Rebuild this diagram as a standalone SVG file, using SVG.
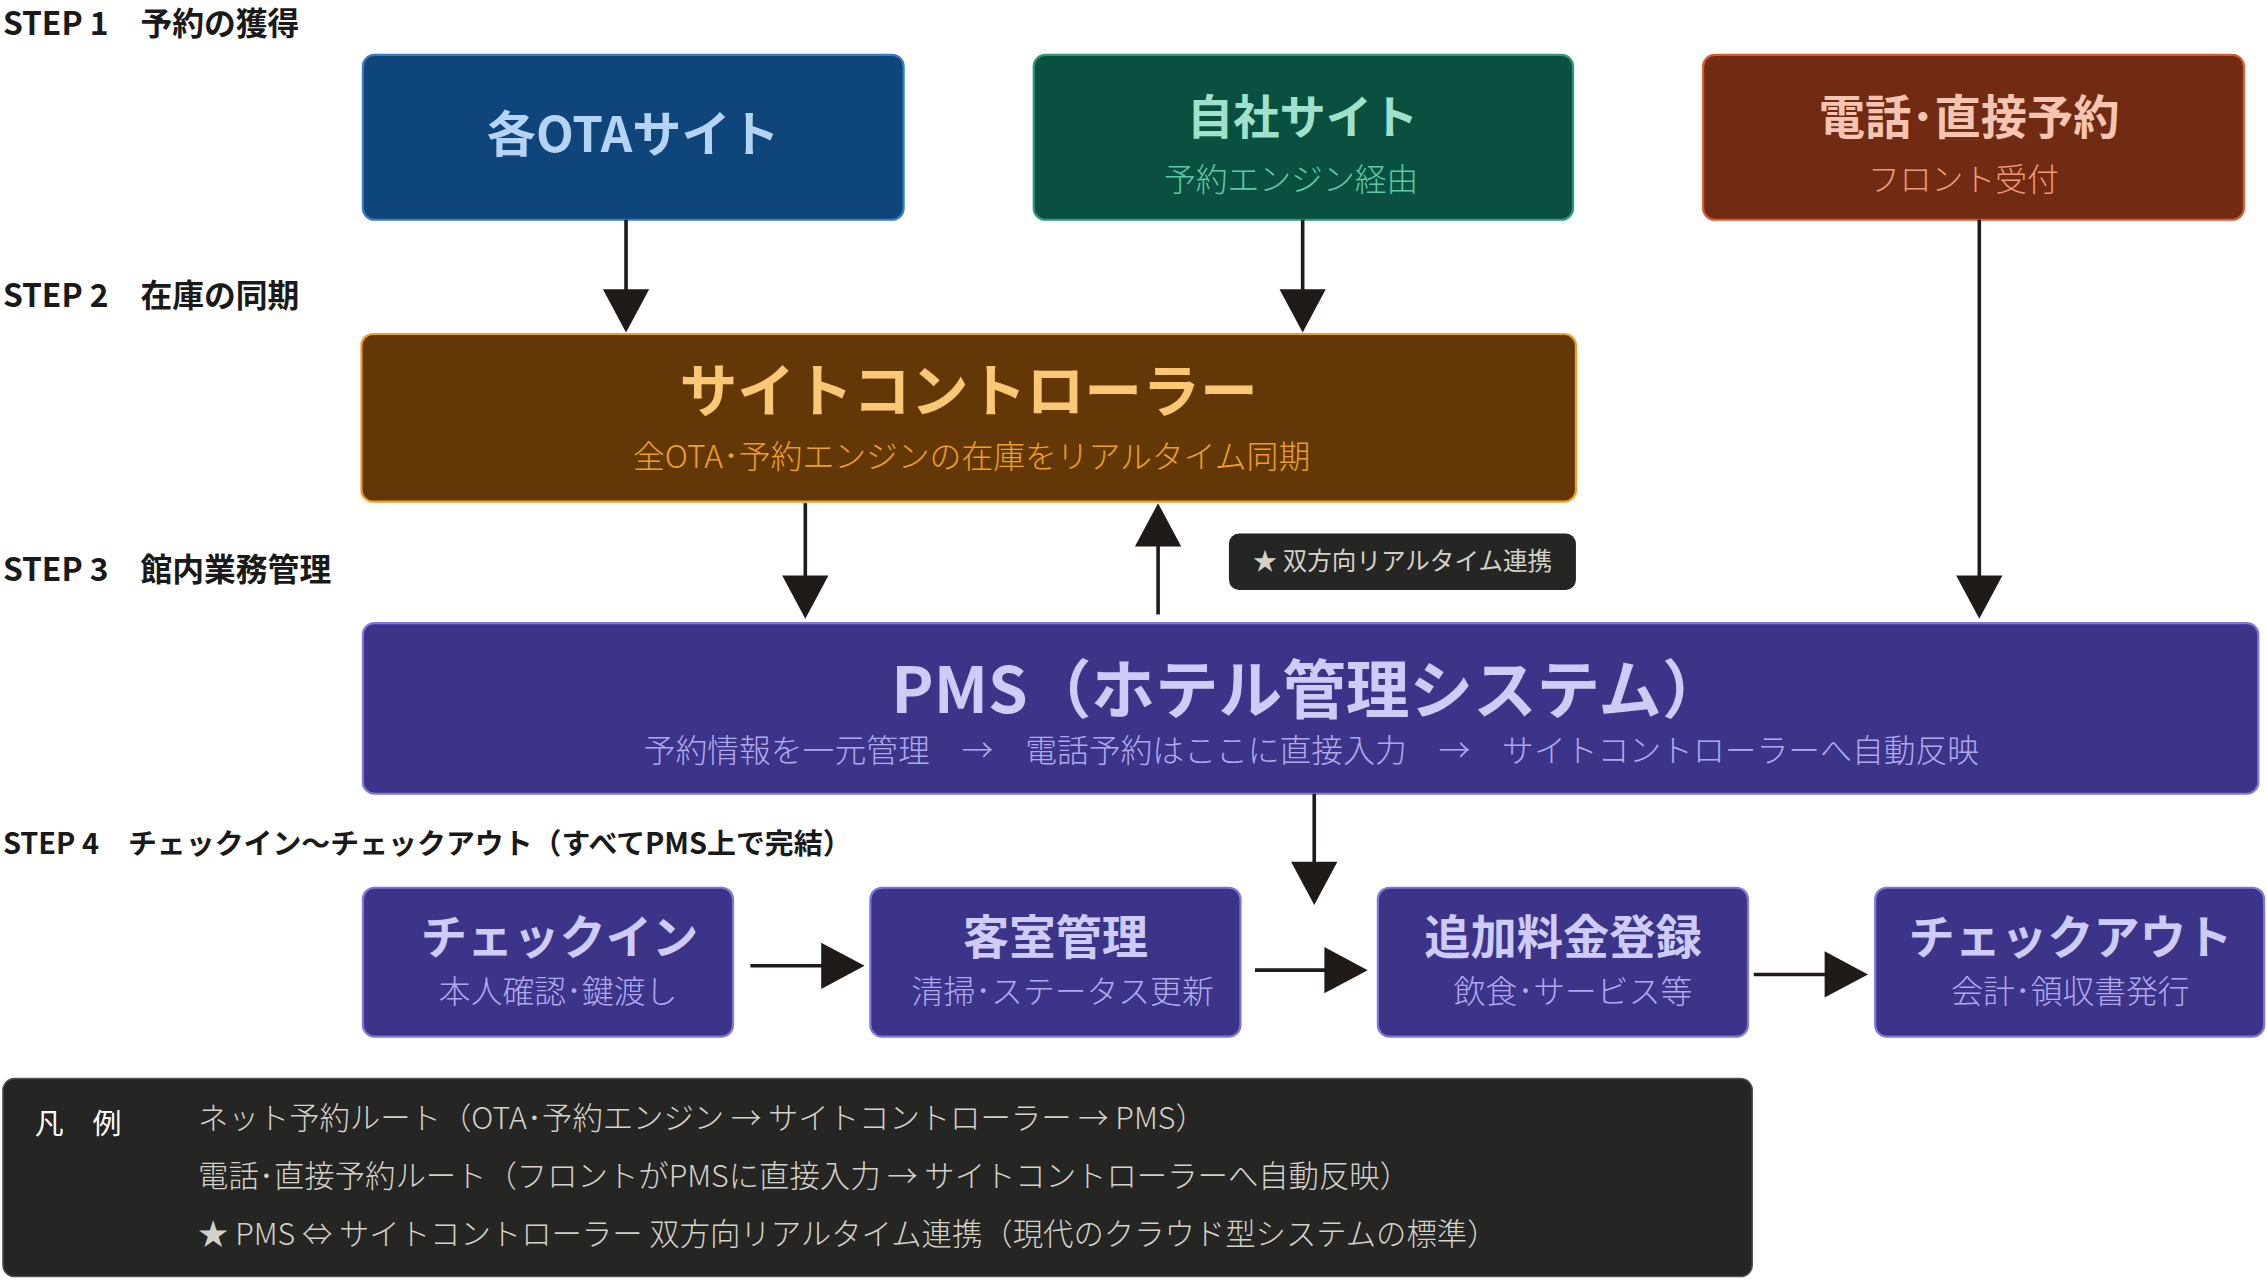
<svg xmlns="http://www.w3.org/2000/svg" width="2267" height="1280" viewBox="0 0 2267 1280">
<style>
text{font-family:"Noto Sans CJK JP","Noto Sans",sans-serif}
.step{font-size:22px;font-weight:700;fill:#1a1a1a}
.t{font-weight:700;text-anchor:middle}
.s{font-size:22px;text-anchor:middle;font-weight:300}
.ln{stroke:#201a18;stroke-width:2.5;fill:none}
.hd{fill:#201a18}
.lg{font-size:21px;fill:#d3d1c7;font-weight:300}
</style>
<rect width="2267" height="1280" fill="#ffffff"/>
<g transform="scale(1.4458)">
<g id="labels">
<text class="step" x="2" y="24">STEP 1　予約の獲得</text>
<text class="step" x="2" y="212">STEP 2　在庫の同期</text>
<text class="step" x="2" y="402">STEP 3　館内業務管理</text>
<text class="step" x="2" y="591" style="font-size:20px">STEP 4　チェックイン～チェックアウト（すべてPMS上で完結）</text>
</g>
<g id="ota">
<rect x="251" y="38" width="374" height="114" rx="8" fill="#0e457a" stroke="#3a7ac0" stroke-width="1.5"/>
<text class="t" x="438" y="105" font-size="34" fill="#b5d4f4">各OTAサイト</text>
</g>
<g id="own">
<rect x="715" y="38" width="373" height="114" rx="8" fill="#0a5040" stroke="#2a9a7a" stroke-width="1.5"/>
<text class="t" x="901" y="93" font-size="32" fill="#9fe1cb">自社サイト</text>
<text class="s" x="893" y="132" fill="#5dcaa5">予約エンジン経由</text>
</g>
<g id="phone">
<rect x="1178" y="38" width="374" height="114" rx="8" fill="#712b13" stroke="#d85a30" stroke-width="1.5"/>
<text class="t" x="1362" y="93" font-size="32" fill="#f5c4b3">電話･直接予約</text>
<text class="s" x="1358" y="132" fill="#f0997b">フロント受付</text>
</g>
<g id="sitecontroller">
<rect x="250" y="231" width="840" height="116" rx="8" fill="#633806" stroke="#ef9f27" stroke-width="1.5"/>
<text class="t" x="670" y="285" font-size="40" fill="#fac775">サイトコントローラー</text>
<text class="s" x="672" y="324" fill="#ef9f27">全OTA･予約エンジンの在庫をリアルタイム同期</text>
</g>
<g id="badge">
<rect x="850" y="369" width="240" height="39" rx="7" fill="#252523"/>
<text x="970" y="394" font-size="17" text-anchor="middle" fill="#d3d1c7">★ 双方向リアルタイム連携</text>
</g>
<g id="pms">
<rect x="251" y="431" width="1311" height="118" rx="8" fill="#3c3489" stroke="#7f77dd" stroke-width="1.5"/>
<text class="t" x="905" y="493" font-size="44" fill="#cecbf6">PMS（ホテル管理システム）</text>
<text class="s" x="907" y="527" fill="#afa9ec">予約情報を一元管理　→　電話予約はここに直接入力　→　サイトコントローラーへ自動反映</text>
</g>
<g id="checkin">
<rect x="251" y="614" width="256" height="103" rx="8" fill="#3c3489" stroke="#7f77dd" stroke-width="1.5"/>
<text class="t" x="387" y="660" font-size="32" fill="#cecbf6">チェックイン</text>
<text class="s" x="386" y="694" fill="#afa9ec">本人確認･鍵渡し</text>
</g>
<g id="room">
<rect x="602" y="614" width="256" height="103" rx="8" fill="#3c3489" stroke="#7f77dd" stroke-width="1.5"/>
<text class="t" x="730" y="660" font-size="32" fill="#cecbf6">客室管理</text>
<text class="s" x="735" y="694" fill="#afa9ec">清掃･ステータス更新</text>
</g>
<g id="charge">
<rect x="953" y="614" width="256" height="103" rx="8" fill="#3c3489" stroke="#7f77dd" stroke-width="1.5"/>
<text class="t" x="1081" y="660" font-size="32" fill="#cecbf6">追加料金登録</text>
<text class="s" x="1088" y="694" fill="#afa9ec">飲食･サービス等</text>
</g>
<g id="checkout">
<rect x="1297" y="614" width="269" height="103" rx="8" fill="#3c3489" stroke="#7f77dd" stroke-width="1.5"/>
<text class="t" x="1432" y="660" font-size="32" fill="#cecbf6">チェックアウト</text>
<text class="s" x="1432" y="694" fill="#afa9ec">会計･領収書発行</text>
</g>
<g id="legend">
<rect x="2" y="746" width="1210" height="137" rx="8" fill="#252523" stroke="#555" stroke-width="1"/>
<text x="24" y="784" font-size="20" fill="#ffffff">凡　例</text>
<text class="lg" x="137" y="781">ネット予約ルート（OTA･予約エンジン → サイトコントローラー → PMS）</text>
<text class="lg" x="137" y="821">電話･直接予約ルート（フロントがPMSに直接入力 → サイトコントローラーへ自動反映）</text>
<text class="lg" x="137" y="861">★ PMS ⇔ サイトコントローラー 双方向リアルタイム連携（現代のクラウド型システムの標準）</text>
</g>
<g id="connectors">
<path class="ln" d="M433 152V202"/><polygon class="hd" points="417,200 449,200 433,230"/>
<path class="ln" d="M901 152V202"/><polygon class="hd" points="885,200 917,200 901,230"/>
<path class="ln" d="M557 348V400"/><polygon class="hd" points="541,398 573,398 557,428"/>
<path class="ln" d="M801 425V376"/><polygon class="hd" points="785,378 817,378 801,348"/>
<path class="ln" d="M1369 152V400"/><polygon class="hd" points="1353,398 1385,398 1369,428"/>
<path class="ln" d="M909 549V598"/><polygon class="hd" points="893,596 925,596 909,626"/>
<path class="ln" d="M519 668H570"/><polygon class="hd" points="568,652 568,684 598,668"/>
<path class="ln" d="M868 671H918"/><polygon class="hd" points="916,655 916,687 946,671"/>
<path class="ln" d="M1213 674H1264"/><polygon class="hd" points="1262,658 1262,690 1292,674"/>
</g>
</g>
</svg>
